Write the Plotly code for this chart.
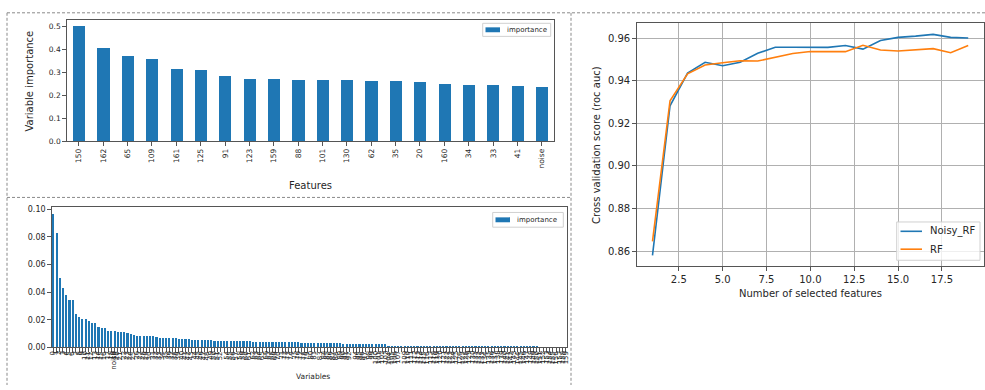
import plotly.graph_objects as go

W, H = 985, 390

# --- top-left: importance of the 20 best features -----------------------
top_features = ["150", "162", "65", "109", "161", "125", "91", "123", "159", "88",
                "101", "130", "62", "35", "20", "160", "34", "33", "41", "noise"]
top_importance = [0.504, 0.407, 0.374, 0.361, 0.316, 0.313, 0.283, 0.274, 0.270, 0.267,
                  0.267, 0.267, 0.264, 0.264, 0.261, 0.251, 0.244, 0.244, 0.241, 0.239]

# --- bottom-left: importance of all variables -----------------------------
all_variables = [
    "150", "162", "65", "109", "161", "125", "91", "123", "159", "88",
    "101", "130", "62", "35", "20", "160", "34", "33", "41", "noise",
    "12", "147", "58", "3", "119", "76", "140", "27", "95", "153",
    "8", "131", "46", "70", "112", "1", "144", "83", "23", "137",
    "54", "99", "6", "128", "71", "157", "15", "106", "43", "139",
    "80", "29", "118", "60", "151", "2", "97", "135", "49", "74",
    "10", "146", "86", "25", "113", "39", "155", "68", "4", "121",
    "92", "31", "142", "57", "104", "17", "133", "78", "45", "115",
    "0", "149", "63", "21", "127", "84", "38", "156", "102", "52",
    "9", "141", "73", "28", "116", "94", "40", "158", "5", "122",
    "67", "18", "136", "81", "47", "110", "59", "148", "26", "98",
    "13", "132", "75", "42", "117", "89", "154", "30", "7", "126",
    "64", "22", "143", "85", "50", "107", "36", "152", "11", "120",
    "69", "16", "134", "79", "44", "114", "96", "55", "145", "24",
    "103", "61", "14", "129", "87", "37", "48", "100", "19", "138",
    "72", "32", "111", "56", "90", "124", "51", "66", "105", "77",
]
all_importance = [
    0.0967, 0.0833, 0.0502, 0.0429, 0.0377, 0.0342, 0.0342, 0.0243, 0.0224, 0.0210,
    0.0205, 0.0193, 0.0175, 0.0175, 0.0149, 0.0144, 0.0144, 0.0123, 0.0118, 0.0118,
    0.0113, 0.0113, 0.0111, 0.0104, 0.0099, 0.0094, 0.0085, 0.0085, 0.0085, 0.0084,
    0.0080, 0.0080, 0.0075, 0.0071, 0.0071, 0.0071, 0.0070, 0.0070, 0.0066, 0.0064,
    0.0059, 0.0059, 0.0059, 0.0058, 0.0058, 0.0058, 0.0052, 0.0052, 0.0052, 0.0051,
    0.0047, 0.0047, 0.0047, 0.0047, 0.0047, 0.0047, 0.0046, 0.0046, 0.0046, 0.0046,
    0.0046, 0.0045, 0.0042, 0.0042, 0.0042, 0.0042, 0.0042, 0.0042, 0.0041, 0.0041,
    0.0041, 0.0041, 0.0040, 0.0040, 0.0038, 0.0038, 0.0037, 0.0033, 0.0032, 0.0032,
    0.0031, 0.0031, 0.0031, 0.0031, 0.0030, 0.0030, 0.0030, 0.0030, 0.0030, 0.0030,
    0.0029, 0.0029, 0.0029, 0.0029, 0.0029, 0.0028, 0.0028, 0.0028, 0.0028, 0.0028,
    0.0027, 0.0027, 0.0027, 0.0026, 0.0013, 0.0013, 0.0013, 0.0013, 0.0013, 0.0013,
    0.0013, 0.0012, 0.0012, 0.0012, 0.0012, 0.0012, 0.0012, 0.0012, 0.0012, 0.0012,
    0.0012, 0.0012, 0.0012, 0.0011, 0.0011, 0.0011, 0.0011, 0.0011, 0.0011, 0.0011,
    0.0011, 0.0011, 0.0011, 0.0011, 0.0010, 0.0010, 0.0010, 0.0010, 0.0010, 0.0010,
    0.0010, 0.0010, 0.0010, 0.0010, 0.0009, 0.0009, 0.0009, 0.0009, 0.0009, 0.0009,
    0.0009, 0.0002, 0.0002, 0.0002, 0.0001, 0.0001, 0.0001, 0.0001, 0.0001, 0.0001,
]

# --- right: cross-validation score vs number of selected features ----------
n_selected = [1, 2, 3, 4, 5, 6, 7, 8, 9, 10, 11, 12, 13, 14, 15, 16, 17, 18, 19]
score_noisy_rf = [0.8580, 0.9282, 0.9435, 0.9486, 0.9470, 0.9486, 0.9528, 0.9557, 0.9557, 0.9557,
                  0.9556, 0.9565, 0.9548, 0.9588, 0.9603, 0.9609, 0.9617, 0.9603, 0.9600]
score_rf = [0.8646, 0.9305, 0.9432, 0.9473, 0.9484, 0.9493, 0.9492, 0.9508, 0.9527, 0.9537,
            0.9536, 0.9536, 0.9566, 0.9544, 0.9539, 0.9544, 0.9550, 0.9531, 0.9565]

BLUE = "#1f77b4"
ORANGE = "#ff7f0e"
FONT = "DejaVu Sans"
SPINE = "#555555"
TXT = "#262626"


def px_x(x):
    return x / W


def px_y(y):
    return 1 - y / H


fig = go.Figure()

fig.add_trace(go.Bar(x=top_features, y=top_importance, width=0.5, name="importance",
                     marker=dict(color=BLUE, line=dict(width=0)),
                     xaxis="x", yaxis="y", showlegend=False))
fig.add_trace(go.Bar(x=all_variables, y=all_importance, width=0.5, name="importance",
                     marker=dict(color=BLUE, line=dict(width=0)),
                     xaxis="x2", yaxis="y2", showlegend=False))
fig.add_trace(go.Scatter(x=n_selected, y=score_noisy_rf, mode="lines", name="Noisy_RF",
                         line=dict(color=BLUE, width=1.6), xaxis="x3", yaxis="y3",
                         showlegend=False))
fig.add_trace(go.Scatter(x=n_selected, y=score_rf, mode="lines", name="RF",
                         line=dict(color=ORANGE, width=1.6), xaxis="x3", yaxis="y3",
                         showlegend=False))

axis_common = dict(showline=True, linecolor=SPINE, linewidth=1, mirror=True,
                   ticks="outside", ticklen=3.5, tickwidth=0.8, tickcolor=SPINE,
                   zeroline=False, showgrid=False, fixedrange=True)
grid = {"showgrid": True, "gridcolor": "#b0b0b0", "gridwidth": 0.8}

fig.update_layout(
    width=W, height=H,
    margin=dict(l=0, r=0, t=0, b=0),
    paper_bgcolor="white", plot_bgcolor="white",
    font=dict(family=FONT, color=TXT),
    bargap=0,
    showlegend=False,
    xaxis=dict(domain=[px_x(66.7), px_x(554)], type="category", range=[-0.5, 19.5],
               tickangle=-90, tickfont=dict(size=7.5), anchor="y", **axis_common),
    yaxis=dict(domain=[px_y(141.7), px_y(18.3)], range=[0, 0.53], dtick=0.1,
               tickformat=".1f", tickfont=dict(size=7.5), anchor="x", **axis_common),
    xaxis2=dict(domain=[px_x(51.7), px_x(567.3)], type="category",
                range=[-0.5, len(all_variables) - 0.5],
                tickmode="array", tickvals=all_variables, showticklabels=False,
                anchor="y2", **axis_common),
    yaxis2=dict(domain=[px_y(351.7), px_y(208.6)], range=[0, 0.1018], dtick=0.02,
                tickformat=".2f", tickfont=dict(size=8), anchor="x2", **axis_common),
    xaxis3=dict(domain=[px_x(636.7), px_x(984)], range=[0.1, 19.9], tick0=2.5, dtick=2.5,
                tickformat=".1f", tickfont=dict(size=10), anchor="y3",
                **{**axis_common, **grid}),
    yaxis3=dict(domain=[px_y(269.3), px_y(21.7)], range=[0.8528, 0.9669], tick0=0.86, dtick=0.02,
                tickformat=".2f", tickfont=dict(size=10), anchor="x3",
                **{**axis_common, **grid}),
)

# every variable name under the dense bar chart, rotated and hanging from the axis
# (the names overlap, as the axis is crowded); the label centre sits half its length below
LABEL_SIZE = 7
CHAR_EM = {"n": 0.634, "o": 0.612, "i": 0.278, "s": 0.521, "e": 0.615}
for name in all_variables:
    length = sum(CHAR_EM.get(c, 0.636) for c in name) * LABEL_SIZE
    fig.add_annotation(text=name, x=name, xref="x2", y=px_y(355.5 + length / 2), yref="paper",
                       showarrow=False, textangle=-90, xanchor="center", yanchor="middle",
                       borderpad=0, font=dict(size=LABEL_SIZE, family=FONT, color=TXT))

# axis titles
titles = [
    dict(text="Variable importance", x=px_x(30), y=px_y(81), textangle=-90, size=10),
    dict(text="Features", x=px_x(310), y=px_y(187), textangle=0, size=10),
    dict(text="Variables", x=px_x(313), y=px_y(381), textangle=0, size=7.5),
    dict(text="Cross validation score (roc auc)", x=px_x(597), y=px_y(145.5), textangle=-90, size=10),
    dict(text="Number of selected features", x=px_x(810), y=px_y(297), textangle=0, size=10),
]
for t in titles:
    fig.add_annotation(text=t["text"], x=t["x"], y=t["y"], xref="paper", yref="paper",
                       showarrow=False, textangle=t["textangle"],
                       xanchor="center", yanchor="middle",
                       font=dict(size=t["size"], family=FONT, color=TXT))


# legend boxes, laid out like matplotlib's upper/lower-right legends
def legend_box(x0, y0, x1, y1):
    fig.add_shape(type="rect", xref="paper", yref="paper",
                  x0=px_x(x0), y0=px_y(y0), x1=px_x(x1), y1=px_y(y1),
                  line=dict(color="#d0d0d0", width=1), fillcolor="rgba(255,255,255,0.8)",
                  layer="above")


def legend_text(text, x, y, size):
    fig.add_annotation(text=text, x=px_x(x), y=px_y(y), xref="paper", yref="paper",
                       showarrow=False, xanchor="left", yanchor="middle",
                       font=dict(size=size, family=FONT, color=TXT))


legend_box(482.7, 21.7, 550.7, 35)
fig.add_shape(type="rect", xref="paper", yref="paper",
              x0=px_x(485.5), y0=px_y(25.8), x1=px_x(500), y1=px_y(30.8),
              line=dict(width=0), fillcolor=BLUE, layer="above")
legend_text("importance", 504.5, 28.3, 7)

legend_box(492.7, 214.3, 563.3, 229.3)
fig.add_shape(type="rect", xref="paper", yref="paper",
              x0=px_x(495.5), y0=px_y(219.3), x1=px_x(510), y1=px_y(224.3),
              line=dict(width=0), fillcolor=BLUE, layer="above")
legend_text("importance", 515, 221.5, 7)

legend_box(896.7, 224, 980, 263)
for label, color, yy in [("Noisy_RF", BLUE, 233.5), ("RF", ORANGE, 251.7)]:
    fig.add_shape(type="line", xref="paper", yref="paper",
                  x0=px_x(900.5), y0=px_y(yy), x1=px_x(922), y1=px_y(yy),
                  line=dict(color=color, width=1.6), layer="above")
    legend_text(label, 928, yy, 10)

# dashed panel outlines
dash_style = dict(color="#8a8a8a", width=1, dash="3px,2px")
panel_lines = [
    (7, 11, 985, 11),
    (7, 11, 7, 390),
    (7, 199, 571, 199),
    (571, 11, 571, 390),
]
for x0, y0, x1, y1 in panel_lines:
    fig.add_shape(type="line", xref="paper", yref="paper",
                  x0=px_x(x0), y0=px_y(y0), x1=px_x(x1), y1=px_y(y1),
                  line=dash_style, layer="above")

fig.write_html("out.html")
